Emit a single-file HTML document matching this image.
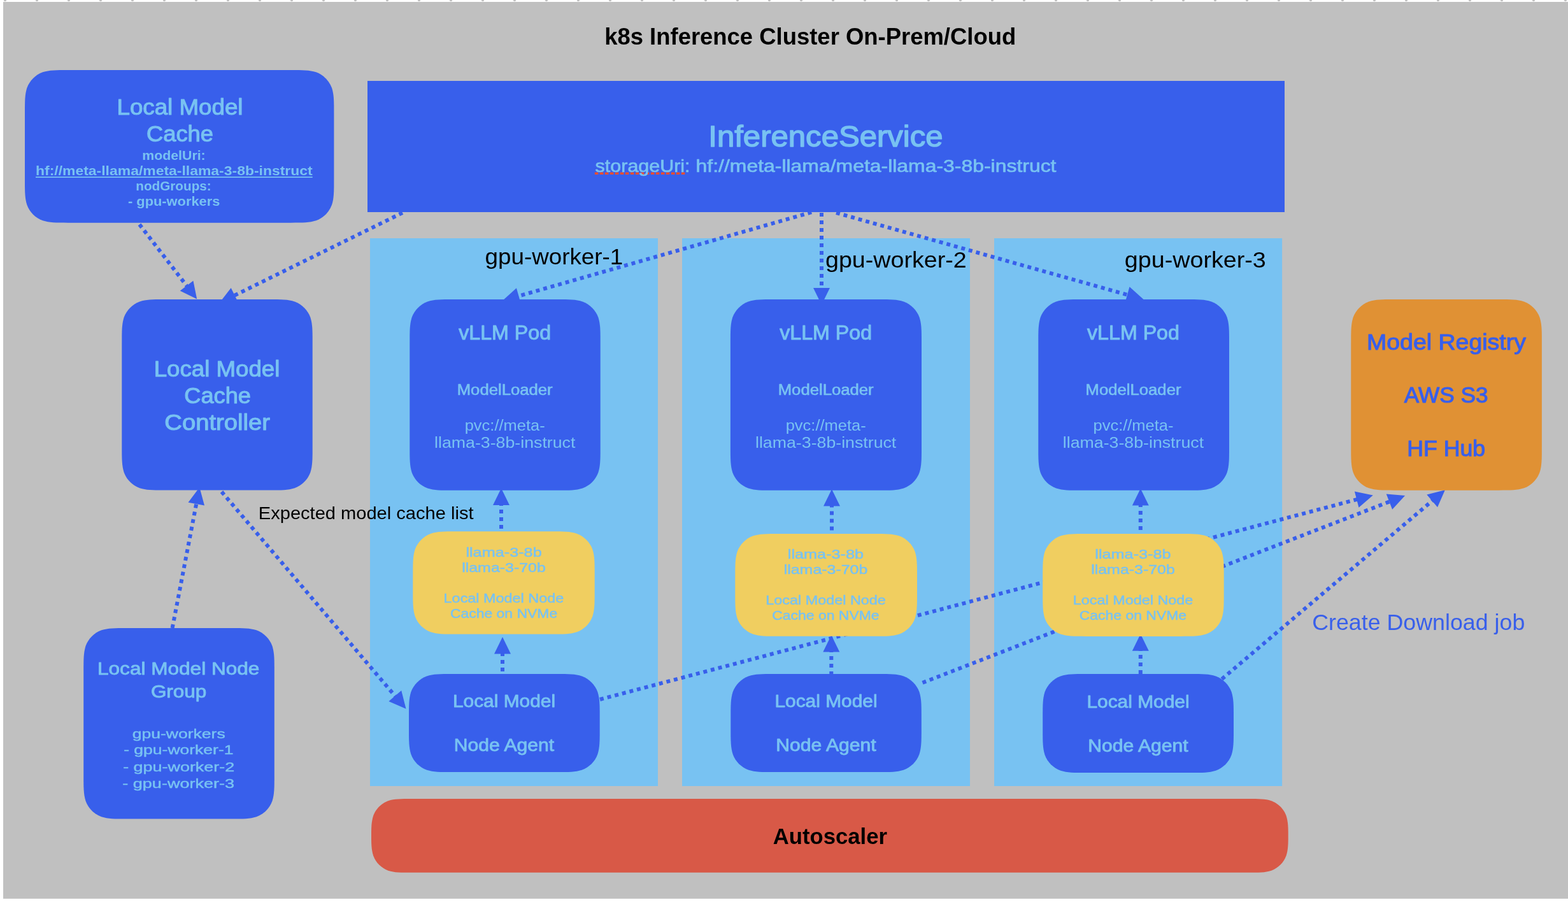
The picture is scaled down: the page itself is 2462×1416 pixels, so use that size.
<!DOCTYPE html>
<html lang="en">
<head>
<meta charset="utf-8">
<title>k8s Inference Cluster On-Prem/Cloud</title>
<style>
html,body{margin:0;padding:0;background:#fff;}
body{width:2462px;height:1416px;overflow:hidden;}
svg{display:block;font-family:"Liberation Sans", sans-serif;will-change:transform;filter:opacity(1);}
text{white-space:pre;}
</style>
</head>
<body>
<svg width="2462" height="1416" viewBox="0 0 2462 1416">
<rect x="5.0" y="3.0" width="2457.0" height="1407.8" fill="#C0C0C0"/>
<circle cx="8" cy="0" r="2.2" fill="#C0C0C0"/>
<circle cx="58" cy="0" r="2.2" fill="#C0C0C0"/>
<circle cx="108" cy="0" r="2.2" fill="#C0C0C0"/>
<circle cx="158" cy="0" r="2.2" fill="#C0C0C0"/>
<circle cx="208" cy="0" r="2.2" fill="#C0C0C0"/>
<circle cx="258" cy="0" r="2.2" fill="#C0C0C0"/>
<circle cx="308" cy="0" r="2.2" fill="#C0C0C0"/>
<circle cx="358" cy="0" r="2.2" fill="#C0C0C0"/>
<circle cx="408" cy="0" r="2.2" fill="#C0C0C0"/>
<circle cx="458" cy="0" r="2.2" fill="#C0C0C0"/>
<circle cx="508" cy="0" r="2.2" fill="#C0C0C0"/>
<circle cx="558" cy="0" r="2.2" fill="#C0C0C0"/>
<circle cx="608" cy="0" r="2.2" fill="#C0C0C0"/>
<circle cx="658" cy="0" r="2.2" fill="#C0C0C0"/>
<circle cx="708" cy="0" r="2.2" fill="#C0C0C0"/>
<circle cx="758" cy="0" r="2.2" fill="#C0C0C0"/>
<circle cx="808" cy="0" r="2.2" fill="#C0C0C0"/>
<circle cx="858" cy="0" r="2.2" fill="#C0C0C0"/>
<circle cx="908" cy="0" r="2.2" fill="#C0C0C0"/>
<circle cx="958" cy="0" r="2.2" fill="#C0C0C0"/>
<circle cx="1008" cy="0" r="2.2" fill="#C0C0C0"/>
<circle cx="1058" cy="0" r="2.2" fill="#C0C0C0"/>
<circle cx="1108" cy="0" r="2.2" fill="#C0C0C0"/>
<circle cx="1158" cy="0" r="2.2" fill="#C0C0C0"/>
<circle cx="1208" cy="0" r="2.2" fill="#C0C0C0"/>
<circle cx="1258" cy="0" r="2.2" fill="#C0C0C0"/>
<circle cx="1308" cy="0" r="2.2" fill="#C0C0C0"/>
<circle cx="1358" cy="0" r="2.2" fill="#C0C0C0"/>
<circle cx="1408" cy="0" r="2.2" fill="#C0C0C0"/>
<circle cx="1458" cy="0" r="2.2" fill="#C0C0C0"/>
<circle cx="1508" cy="0" r="2.2" fill="#C0C0C0"/>
<circle cx="1558" cy="0" r="2.2" fill="#C0C0C0"/>
<circle cx="1608" cy="0" r="2.2" fill="#C0C0C0"/>
<circle cx="1658" cy="0" r="2.2" fill="#C0C0C0"/>
<circle cx="1708" cy="0" r="2.2" fill="#C0C0C0"/>
<circle cx="1758" cy="0" r="2.2" fill="#C0C0C0"/>
<circle cx="1808" cy="0" r="2.2" fill="#C0C0C0"/>
<circle cx="1858" cy="0" r="2.2" fill="#C0C0C0"/>
<circle cx="1908" cy="0" r="2.2" fill="#C0C0C0"/>
<circle cx="1958" cy="0" r="2.2" fill="#C0C0C0"/>
<circle cx="2008" cy="0" r="2.2" fill="#C0C0C0"/>
<circle cx="2058" cy="0" r="2.2" fill="#C0C0C0"/>
<circle cx="2108" cy="0" r="2.2" fill="#C0C0C0"/>
<circle cx="2158" cy="0" r="2.2" fill="#C0C0C0"/>
<circle cx="2208" cy="0" r="2.2" fill="#C0C0C0"/>
<circle cx="2258" cy="0" r="2.2" fill="#C0C0C0"/>
<circle cx="2308" cy="0" r="2.2" fill="#C0C0C0"/>
<circle cx="2358" cy="0" r="2.2" fill="#C0C0C0"/>
<circle cx="2408" cy="0" r="2.2" fill="#C0C0C0"/>
<circle cx="2458" cy="0" r="2.2" fill="#C0C0C0"/>
<rect x="581.0" y="374.0" width="452.0" height="860.0" fill="#78C2F2"/>
<rect x="1071.0" y="374.0" width="452.0" height="860.0" fill="#78C2F2"/>
<rect x="1561.0" y="374.0" width="452.1" height="860.0" fill="#78C2F2"/>
<rect x="577.0" y="127.0" width="1440.0" height="206.0" fill="#385FEB"/>
<g id="lines">
<line x1="219.0" y1="352.3" x2="295.5" y2="451.8" stroke="#385FEB" stroke-width="6" stroke-dasharray="6 6"/>
<polygon points="309.2,469.6 282.7,456.5 303.4,440.7" fill="#385FEB"/>
<line x1="632.0" y1="334.0" x2="364.9" y2="465.4" stroke="#385FEB" stroke-width="6" stroke-dasharray="6 6"/>
<polygon points="344.7,475.3 362.7,451.9 374.2,475.3" fill="#385FEB"/>
<line x1="1274.2" y1="333.2" x2="810.6" y2="465.8" stroke="#385FEB" stroke-width="6" stroke-dasharray="6 6"/>
<polygon points="789.0,472.0 810.9,452.2 818.1,477.2" fill="#385FEB"/>
<line x1="1290.0" y1="334.0" x2="1290.0" y2="456.0" stroke="#385FEB" stroke-width="6" stroke-dasharray="6 6"/>
<polygon points="1290.0,478.5 1277.0,452.0 1303.0,452.0" fill="#385FEB"/>
<line x1="1313.0" y1="334.0" x2="1773.8" y2="463.9" stroke="#385FEB" stroke-width="6" stroke-dasharray="6 6"/>
<polygon points="1795.5,470.0 1766.5,475.3 1773.5,450.3" fill="#385FEB"/>
<line x1="787.0" y1="830.0" x2="787.0" y2="789.0" stroke="#385FEB" stroke-width="6" stroke-dasharray="6 6"/>
<polygon points="787.0,766.5 800.0,793.0 774.0,793.0" fill="#385FEB"/>
<line x1="1306.0" y1="832.6" x2="1306.0" y2="790.5" stroke="#385FEB" stroke-width="6" stroke-dasharray="6 6"/>
<polygon points="1306.0,768.0 1319.0,794.5 1293.0,794.5" fill="#385FEB"/>
<line x1="1790.8" y1="832.0" x2="1790.8" y2="789.5" stroke="#385FEB" stroke-width="6" stroke-dasharray="6 6"/>
<polygon points="1790.8,767.0 1803.8,793.5 1777.8,793.5" fill="#385FEB"/>
<line x1="789.0" y1="1054.0" x2="789.0" y2="1022.5" stroke="#385FEB" stroke-width="6" stroke-dasharray="6 6"/>
<polygon points="789.0,1000.0 802.0,1026.5 776.0,1026.5" fill="#385FEB"/>
<line x1="1305.3" y1="1060.0" x2="1305.3" y2="1019.5" stroke="#385FEB" stroke-width="6" stroke-dasharray="6 6"/>
<polygon points="1305.3,997.0 1318.3,1023.5 1292.3,1023.5" fill="#385FEB"/>
<line x1="1790.8" y1="1058.0" x2="1790.8" y2="1017.8" stroke="#385FEB" stroke-width="6" stroke-dasharray="6 6"/>
<polygon points="1790.8,995.3 1803.8,1021.8 1777.8,1021.8" fill="#385FEB"/>
<line x1="270.6" y1="986.0" x2="309.0" y2="787.2" stroke="#385FEB" stroke-width="6" stroke-dasharray="6 6"/>
<polygon points="313.3,765.1 321.0,793.6 295.5,788.7" fill="#385FEB"/>
<line x1="348.0" y1="772.0" x2="622.9" y2="1095.6" stroke="#385FEB" stroke-width="6" stroke-dasharray="6 6"/>
<polygon points="637.5,1112.7 610.4,1100.9 630.2,1084.1" fill="#385FEB"/>
<line x1="942.0" y1="1098.0" x2="2134.0" y2="783.1" stroke="#385FEB" stroke-width="6" stroke-dasharray="6 6"/>
<polygon points="2155.8,777.4 2133.5,796.7 2126.9,771.6" fill="#385FEB"/>
<line x1="1448.5" y1="1071.8" x2="2185.1" y2="786.2" stroke="#385FEB" stroke-width="6" stroke-dasharray="6 6"/>
<polygon points="2206.1,778.1 2186.1,799.8 2176.7,775.6" fill="#385FEB"/>
<line x1="1918.5" y1="1066.0" x2="2251.7" y2="783.7" stroke="#385FEB" stroke-width="6" stroke-dasharray="6 6"/>
<polygon points="2268.9,769.2 2257.1,796.2 2240.3,776.4" fill="#385FEB"/>
</g>
<path d="M107.03,110.00 L456.37,110.00 C475.96,110.00 485.76,110.00 496.30,113.33 C507.81,117.52 516.88,126.59 521.07,138.10 C524.40,148.64 524.40,158.44 524.40,178.03 L524.40,281.67 C524.40,301.26 524.40,311.06 521.07,321.60 C516.88,333.11 507.81,342.18 496.30,346.37 C485.76,349.70 475.96,349.70 456.37,349.70 L107.03,349.70 C87.44,349.70 77.64,349.70 67.10,346.37 C55.59,342.18 46.52,333.11 42.33,321.60 C39.00,311.06 39.00,301.26 39.00,281.67 L39.00,178.03 C39.00,158.44 39.00,148.64 42.33,138.10 C46.52,126.59 55.59,117.52 67.10,113.33 C77.64,110.00 87.44,110.00 107.03,110.00 Z" fill="#385FEB"/>
<path d="M259.33,470.10 L422.67,470.10 C442.26,470.10 452.06,470.10 462.60,473.43 C474.11,477.62 483.18,486.69 487.37,498.20 C490.70,508.74 490.70,518.54 490.70,538.13 L490.70,701.57 C490.70,721.16 490.70,730.96 487.37,741.50 C483.18,753.01 474.11,762.08 462.60,766.27 C452.06,769.60 442.26,769.60 422.67,769.60 L259.33,769.60 C239.74,769.60 229.94,769.60 219.40,766.27 C207.89,762.08 198.82,753.01 194.63,741.50 C191.30,730.96 191.30,721.16 191.30,701.57 L191.30,538.13 C191.30,518.54 191.30,508.74 194.63,498.20 C198.82,486.69 207.89,477.62 219.40,473.43 C229.94,470.10 239.74,470.10 259.33,470.10 Z" fill="#385FEB"/>
<path d="M711.33,470.10 L874.67,470.10 C894.26,470.10 904.06,470.10 914.60,473.43 C926.11,477.62 935.18,486.69 939.37,498.20 C942.70,508.74 942.70,518.54 942.70,538.13 L942.70,701.77 C942.70,721.36 942.70,731.16 939.37,741.70 C935.18,753.21 926.11,762.28 914.60,766.47 C904.06,769.80 894.26,769.80 874.67,769.80 L711.33,769.80 C691.74,769.80 681.94,769.80 671.40,766.47 C659.89,762.28 650.82,753.21 646.63,741.70 C643.30,731.16 643.30,721.36 643.30,701.77 L643.30,538.13 C643.30,518.54 643.30,508.74 646.63,498.20 C650.82,486.69 659.89,477.62 671.40,473.43 C681.94,470.10 691.74,470.10 711.33,470.10 Z" fill="#385FEB"/>
<path d="M1214.93,470.10 L1378.97,470.10 C1398.56,470.10 1408.36,470.10 1418.90,473.43 C1430.41,477.62 1439.48,486.69 1443.67,498.20 C1447.00,508.74 1447.00,518.54 1447.00,538.13 L1447.00,701.77 C1447.00,721.36 1447.00,731.16 1443.67,741.70 C1439.48,753.21 1430.41,762.28 1418.90,766.47 C1408.36,769.80 1398.56,769.80 1378.97,769.80 L1214.93,769.80 C1195.34,769.80 1185.54,769.80 1175.00,766.47 C1163.49,762.28 1154.42,753.21 1150.23,741.70 C1146.90,731.16 1146.90,721.36 1146.90,701.77 L1146.90,538.13 C1146.90,518.54 1146.90,508.74 1150.23,498.20 C1154.42,486.69 1163.49,477.62 1175.00,473.43 C1185.54,470.10 1195.34,470.10 1214.93,470.10 Z" fill="#385FEB"/>
<path d="M1698.33,470.10 L1861.97,470.10 C1881.56,470.10 1891.36,470.10 1901.90,473.43 C1913.41,477.62 1922.48,486.69 1926.67,498.20 C1930.00,508.74 1930.00,518.54 1930.00,538.13 L1930.00,701.77 C1930.00,721.36 1930.00,731.16 1926.67,741.70 C1922.48,753.21 1913.41,762.28 1901.90,766.47 C1891.36,769.80 1881.56,769.80 1861.97,769.80 L1698.33,769.80 C1678.74,769.80 1668.94,769.80 1658.40,766.47 C1646.89,762.28 1637.82,753.21 1633.63,741.70 C1630.30,731.16 1630.30,721.36 1630.30,701.77 L1630.30,538.13 C1630.30,518.54 1630.30,508.74 1633.63,498.20 C1637.82,486.69 1646.89,477.62 1658.40,473.43 C1668.94,470.10 1678.74,470.10 1698.33,470.10 Z" fill="#385FEB"/>
<path d="M2189.33,470.10 L2352.87,470.10 C2372.46,470.10 2382.26,470.10 2392.80,473.43 C2404.31,477.62 2413.38,486.69 2417.57,498.20 C2420.90,508.74 2420.90,518.54 2420.90,538.13 L2420.90,701.67 C2420.90,721.26 2420.90,731.06 2417.57,741.60 C2413.38,753.11 2404.31,762.18 2392.80,766.37 C2382.26,769.70 2372.46,769.70 2352.87,769.70 L2189.33,769.70 C2169.74,769.70 2159.94,769.70 2149.40,766.37 C2137.89,762.18 2128.82,753.11 2124.63,741.60 C2121.30,731.06 2121.30,721.26 2121.30,701.67 L2121.30,538.13 C2121.30,518.54 2121.30,508.74 2124.63,498.20 C2128.82,486.69 2137.89,477.62 2149.40,473.43 C2159.94,470.10 2169.74,470.10 2189.33,470.10 Z" fill="#E09134"/>
<path d="M716.33,834.30 L865.67,834.30 C885.26,834.30 895.06,834.30 905.60,837.63 C917.11,841.82 926.18,850.89 930.37,862.40 C933.70,872.94 933.70,882.74 933.70,902.33 L933.70,927.47 C933.70,947.06 933.70,956.86 930.37,967.40 C926.18,978.91 917.11,987.98 905.60,992.17 C895.06,995.50 885.26,995.50 865.67,995.50 L716.33,995.50 C696.74,995.50 686.94,995.50 676.40,992.17 C664.89,987.98 655.82,978.91 651.63,967.40 C648.30,956.86 648.30,947.06 648.30,927.47 L648.30,902.33 C648.30,882.74 648.30,872.94 651.63,862.40 C655.82,850.89 664.89,841.82 676.40,837.63 C686.94,834.30 696.74,834.30 716.33,834.30 Z" fill="#F0CE60"/>
<path d="M1222.33,838.00 L1371.97,838.00 C1391.56,838.00 1401.36,838.00 1411.90,841.33 C1423.41,845.52 1432.48,854.59 1436.67,866.10 C1440.00,876.64 1440.00,886.44 1440.00,906.03 L1440.00,930.77 C1440.00,950.36 1440.00,960.16 1436.67,970.70 C1432.48,982.21 1423.41,991.28 1411.90,995.47 C1401.36,998.80 1391.56,998.80 1371.97,998.80 L1222.33,998.80 C1202.74,998.80 1192.94,998.80 1182.40,995.47 C1170.89,991.28 1161.82,982.21 1157.63,970.70 C1154.30,960.16 1154.30,950.36 1154.30,930.77 L1154.30,906.03 C1154.30,886.44 1154.30,876.64 1157.63,866.10 C1161.82,854.59 1170.89,845.52 1182.40,841.33 C1192.94,838.00 1202.74,838.00 1222.33,838.00 Z" fill="#F0CE60"/>
<path d="M1705.23,838.00 L1853.67,838.00 C1873.26,838.00 1883.06,838.00 1893.60,841.33 C1905.11,845.52 1914.18,854.59 1918.37,866.10 C1921.70,876.64 1921.70,886.44 1921.70,906.03 L1921.70,930.87 C1921.70,950.46 1921.70,960.26 1918.37,970.80 C1914.18,982.31 1905.11,991.38 1893.60,995.57 C1883.06,998.90 1873.26,998.90 1853.67,998.90 L1705.23,998.90 C1685.64,998.90 1675.84,998.90 1665.30,995.57 C1653.79,991.38 1644.72,982.31 1640.53,970.80 C1637.20,960.26 1637.20,950.46 1637.20,930.87 L1637.20,906.03 C1637.20,886.44 1637.20,876.64 1640.53,866.10 C1644.72,854.59 1653.79,845.52 1665.30,841.33 C1675.84,838.00 1685.64,838.00 1705.23,838.00 Z" fill="#F0CE60"/>
<path d="M710.03,1058.10 L873.67,1058.10 C893.26,1058.10 903.06,1058.10 913.60,1061.43 C925.11,1065.62 934.18,1074.69 938.37,1086.20 C941.70,1096.74 941.70,1106.54 941.70,1126.13 L941.70,1143.97 C941.70,1163.56 941.70,1173.36 938.37,1183.90 C934.18,1195.41 925.11,1204.48 913.60,1208.67 C903.06,1212.00 893.26,1212.00 873.67,1212.00 L710.03,1212.00 C690.44,1212.00 680.64,1212.00 670.10,1208.67 C658.59,1204.48 649.52,1195.41 645.33,1183.90 C642.00,1173.36 642.00,1163.56 642.00,1143.97 L642.00,1126.13 C642.00,1106.54 642.00,1096.74 645.33,1086.20 C649.52,1074.69 658.59,1065.62 670.10,1061.43 C680.64,1058.10 690.44,1058.10 710.03,1058.10 Z" fill="#385FEB"/>
<path d="M1215.33,1058.10 L1378.77,1058.10 C1398.36,1058.10 1408.16,1058.10 1418.70,1061.43 C1430.21,1065.62 1439.28,1074.69 1443.47,1086.20 C1446.80,1096.74 1446.80,1106.54 1446.80,1126.13 L1446.80,1143.97 C1446.80,1163.56 1446.80,1173.36 1443.47,1183.90 C1439.28,1195.41 1430.21,1204.48 1418.70,1208.67 C1408.16,1212.00 1398.36,1212.00 1378.77,1212.00 L1215.33,1212.00 C1195.74,1212.00 1185.94,1212.00 1175.40,1208.67 C1163.89,1204.48 1154.82,1195.41 1150.63,1183.90 C1147.30,1173.36 1147.30,1163.56 1147.30,1143.97 L1147.30,1126.13 C1147.30,1106.54 1147.30,1096.74 1150.63,1086.20 C1154.82,1074.69 1163.89,1065.62 1175.40,1061.43 C1185.94,1058.10 1195.74,1058.10 1215.33,1058.10 Z" fill="#385FEB"/>
<path d="M1705.23,1058.10 L1868.97,1058.10 C1888.56,1058.10 1898.36,1058.10 1908.90,1061.43 C1920.41,1065.62 1929.48,1074.69 1933.67,1086.20 C1937.00,1096.74 1937.00,1106.54 1937.00,1126.13 L1937.00,1145.07 C1937.00,1164.66 1937.00,1174.46 1933.67,1185.00 C1929.48,1196.51 1920.41,1205.58 1908.90,1209.77 C1898.36,1213.10 1888.56,1213.10 1868.97,1213.10 L1705.23,1213.10 C1685.64,1213.10 1675.84,1213.10 1665.30,1209.77 C1653.79,1205.58 1644.72,1196.51 1640.53,1185.00 C1637.20,1174.46 1637.20,1164.66 1637.20,1145.07 L1637.20,1126.13 C1637.20,1106.54 1637.20,1096.74 1640.53,1086.20 C1644.72,1074.69 1653.79,1065.62 1665.30,1061.43 C1675.84,1058.10 1685.64,1058.10 1705.23,1058.10 Z" fill="#385FEB"/>
<path d="M199.23,986.00 L362.77,986.00 C382.36,986.00 392.16,986.00 402.70,989.33 C414.21,993.52 423.28,1002.59 427.47,1014.10 C430.80,1024.64 430.80,1034.44 430.80,1054.03 L430.80,1217.57 C430.80,1237.16 430.80,1246.96 427.47,1257.50 C423.28,1269.01 414.21,1278.08 402.70,1282.27 C392.16,1285.60 382.36,1285.60 362.77,1285.60 L199.23,1285.60 C179.64,1285.60 169.84,1285.60 159.30,1282.27 C147.79,1278.08 138.72,1269.01 134.53,1257.50 C131.20,1246.96 131.20,1237.16 131.20,1217.57 L131.20,1054.03 C131.20,1034.44 131.20,1024.64 134.53,1014.10 C138.72,1002.59 147.79,993.52 159.30,989.33 C169.84,986.00 179.64,986.00 199.23,986.00 Z" fill="#385FEB"/>
<path d="M647.20,1254.00 L1958.50,1254.00 C1976.98,1254.00 1986.23,1254.00 1996.18,1257.15 C2007.04,1261.10 2015.60,1269.66 2019.55,1280.52 C2022.70,1290.47 2022.70,1299.72 2022.70,1311.90 L2022.70,1311.90 C2022.70,1324.08 2022.70,1333.33 2019.55,1343.28 C2015.60,1354.14 2007.04,1362.70 1996.18,1366.65 C1986.23,1369.80 1976.98,1369.80 1958.50,1369.80 L647.20,1369.80 C628.72,1369.80 619.47,1369.80 609.52,1366.65 C598.66,1362.70 590.10,1354.14 586.15,1343.28 C583.00,1333.33 583.00,1324.08 583.00,1311.90 L583.00,1311.90 C583.00,1299.72 583.00,1290.47 586.15,1280.52 C590.10,1269.66 598.66,1261.10 609.52,1257.15 C619.47,1254.00 628.72,1254.00 647.20,1254.00 Z" fill="#D85947"/>
<text x="949.2" y="70.0" font-size="36" fill="#000" font-weight="bold" textLength="646.0" lengthAdjust="spacingAndGlyphs">k8s Inference Cluster On-Prem/Cloud</text>
<text x="183.5" y="179.8" font-size="34.5" fill="#78C2F2" stroke="#78C2F2" stroke-width="1.07" stroke-linejoin="round" textLength="198.0" lengthAdjust="spacingAndGlyphs">Local Model</text>
<text x="230.0" y="221.6" font-size="34.5" fill="#78C2F2" stroke="#78C2F2" stroke-width="1.07" stroke-linejoin="round" textLength="105.0" lengthAdjust="spacingAndGlyphs">Cache</text>
<text x="223.3" y="251.0" font-size="19.5" fill="#78C2F2" font-weight="bold" textLength="99.4" lengthAdjust="spacingAndGlyphs">modelUri:</text>
<text x="56.0" y="275.3" font-size="19.5" fill="#78C2F2" font-weight="bold" textLength="434.7" lengthAdjust="spacingAndGlyphs">hf://meta-llama/meta-llama-3-8b-instruct</text>
<rect x="56.0" y="277.3" width="434.7" height="1.7" fill="#78C2F2"/>
<text x="213.3" y="299.0" font-size="19.5" fill="#78C2F2" font-weight="bold" textLength="118.4" lengthAdjust="spacingAndGlyphs">nodGroups:</text>
<text x="201.0" y="323.0" font-size="19.5" fill="#78C2F2" font-weight="bold" textLength="144.3" lengthAdjust="spacingAndGlyphs">- gpu-workers</text>
<text x="1112.3" y="230.3" font-size="46" fill="#78C2F2" stroke="#78C2F2" stroke-width="1.43" stroke-linejoin="round" textLength="368.3" lengthAdjust="spacingAndGlyphs">InferenceService</text>
<line x1="933.9" y1="272.3" x2="1075.4" y2="272.3" stroke="#F04E30" stroke-width="3.6" stroke-dasharray="5.4 2.6"/>
<text x="934.6" y="269.6" font-size="28.5" fill="#78C2F2" stroke="#78C2F2" stroke-width="0.7" stroke-linejoin="round" textLength="149.0" lengthAdjust="spacingAndGlyphs">storageUri:</text>
<text x="1092.6" y="269.6" font-size="28.5" fill="#78C2F2" stroke="#78C2F2" stroke-width="0.7" stroke-linejoin="round" textLength="565.9" lengthAdjust="spacingAndGlyphs">hf://meta-llama/meta-llama-3-8b-instruct</text>
<text x="761.5" y="415.0" font-size="34.5" fill="#000" textLength="216.8" lengthAdjust="spacingAndGlyphs">gpu-worker-1</text>
<text x="1296.0" y="420.2" font-size="34.5" fill="#000" textLength="221.7" lengthAdjust="spacingAndGlyphs">gpu-worker-2</text>
<text x="1765.8" y="419.5" font-size="34.5" fill="#000" textLength="222.0" lengthAdjust="spacingAndGlyphs">gpu-worker-3</text>
<text x="241.7" y="591.2" font-size="34.5" fill="#78C2F2" stroke="#78C2F2" stroke-width="1.07" stroke-linejoin="round" textLength="197.6" lengthAdjust="spacingAndGlyphs">Local Model</text>
<text x="289.3" y="633.2" font-size="34.5" fill="#78C2F2" stroke="#78C2F2" stroke-width="1.07" stroke-linejoin="round" textLength="104.7" lengthAdjust="spacingAndGlyphs">Cache</text>
<text x="258.3" y="675.2" font-size="34.5" fill="#78C2F2" stroke="#78C2F2" stroke-width="1.07" stroke-linejoin="round" textLength="165.7" lengthAdjust="spacingAndGlyphs">Controller</text>
<text x="720.2" y="533.4" font-size="30.5" fill="#78C2F2" stroke="#78C2F2" stroke-width="0.95" stroke-linejoin="round" textLength="144.9" lengthAdjust="spacingAndGlyphs">vLLM Pod</text>
<text x="717.7" y="620.0" font-size="23" fill="#78C2F2" stroke="#78C2F2" stroke-width="0.6" stroke-linejoin="round" textLength="150.0" lengthAdjust="spacingAndGlyphs">ModelLoader</text>
<text x="729.7" y="675.8" font-size="23.5" fill="#78C2F2" textLength="126.0" lengthAdjust="spacingAndGlyphs">pvc://meta-</text>
<text x="682.1" y="703.0" font-size="23.5" fill="#78C2F2" textLength="221.3" lengthAdjust="spacingAndGlyphs">llama-3-8b-instruct</text>
<text x="1224.2" y="533.4" font-size="30.5" fill="#78C2F2" stroke="#78C2F2" stroke-width="0.95" stroke-linejoin="round" textLength="144.9" lengthAdjust="spacingAndGlyphs">vLLM Pod</text>
<text x="1221.7" y="620.0" font-size="23" fill="#78C2F2" stroke="#78C2F2" stroke-width="0.6" stroke-linejoin="round" textLength="150.0" lengthAdjust="spacingAndGlyphs">ModelLoader</text>
<text x="1233.7" y="675.8" font-size="23.5" fill="#78C2F2" textLength="126.0" lengthAdjust="spacingAndGlyphs">pvc://meta-</text>
<text x="1186.0" y="703.0" font-size="23.5" fill="#78C2F2" textLength="221.3" lengthAdjust="spacingAndGlyphs">llama-3-8b-instruct</text>
<text x="1707.0" y="533.4" font-size="30.5" fill="#78C2F2" stroke="#78C2F2" stroke-width="0.95" stroke-linejoin="round" textLength="144.9" lengthAdjust="spacingAndGlyphs">vLLM Pod</text>
<text x="1704.5" y="620.0" font-size="23" fill="#78C2F2" stroke="#78C2F2" stroke-width="0.6" stroke-linejoin="round" textLength="150.0" lengthAdjust="spacingAndGlyphs">ModelLoader</text>
<text x="1716.5" y="675.8" font-size="23.5" fill="#78C2F2" textLength="126.0" lengthAdjust="spacingAndGlyphs">pvc://meta-</text>
<text x="1668.8" y="703.0" font-size="23.5" fill="#78C2F2" textLength="221.3" lengthAdjust="spacingAndGlyphs">llama-3-8b-instruct</text>
<text x="2146.0" y="548.6" font-size="35.5" fill="#385FEB" stroke="#385FEB" stroke-width="1.1" stroke-linejoin="round" textLength="250.0" lengthAdjust="spacingAndGlyphs">Model Registry</text>
<text x="2204.8" y="632.3" font-size="35.5" fill="#385FEB" stroke="#385FEB" stroke-width="1.1" stroke-linejoin="round" textLength="131.7" lengthAdjust="spacingAndGlyphs">AWS S3</text>
<text x="2209.2" y="716.2" font-size="35.5" fill="#385FEB" stroke="#385FEB" stroke-width="1.1" stroke-linejoin="round" textLength="123.0" lengthAdjust="spacingAndGlyphs">HF Hub</text>
<text x="405.8" y="815.0" font-size="28.5" fill="#000" textLength="337.7" lengthAdjust="spacingAndGlyphs">Expected model cache list</text>
<text x="731.4" y="873.7" font-size="21" fill="#78C2F2" stroke="#78C2F2" stroke-width="0.5" stroke-linejoin="round" textLength="119.3" lengthAdjust="spacingAndGlyphs">llama-3-8b</text>
<text x="725.2" y="897.7" font-size="21" fill="#78C2F2" stroke="#78C2F2" stroke-width="0.5" stroke-linejoin="round" textLength="131.6" lengthAdjust="spacingAndGlyphs">llama-3-70b</text>
<text x="696.6" y="946.2" font-size="21" fill="#78C2F2" stroke="#78C2F2" stroke-width="0.5" stroke-linejoin="round" textLength="188.7" lengthAdjust="spacingAndGlyphs">Local Model Node</text>
<text x="706.9" y="969.9" font-size="21" fill="#78C2F2" stroke="#78C2F2" stroke-width="0.5" stroke-linejoin="round" textLength="168.3" lengthAdjust="spacingAndGlyphs">Cache on NVMe</text>
<text x="1236.8" y="876.7" font-size="21" fill="#78C2F2" stroke="#78C2F2" stroke-width="0.5" stroke-linejoin="round" textLength="119.3" lengthAdjust="spacingAndGlyphs">llama-3-8b</text>
<text x="1230.7" y="900.7" font-size="21" fill="#78C2F2" stroke="#78C2F2" stroke-width="0.5" stroke-linejoin="round" textLength="131.6" lengthAdjust="spacingAndGlyphs">llama-3-70b</text>
<text x="1202.2" y="949.2" font-size="21" fill="#78C2F2" stroke="#78C2F2" stroke-width="0.5" stroke-linejoin="round" textLength="188.7" lengthAdjust="spacingAndGlyphs">Local Model Node</text>
<text x="1212.3" y="972.9" font-size="21" fill="#78C2F2" stroke="#78C2F2" stroke-width="0.5" stroke-linejoin="round" textLength="168.3" lengthAdjust="spacingAndGlyphs">Cache on NVMe</text>
<text x="1719.3" y="876.7" font-size="21" fill="#78C2F2" stroke="#78C2F2" stroke-width="0.5" stroke-linejoin="round" textLength="119.3" lengthAdjust="spacingAndGlyphs">llama-3-8b</text>
<text x="1713.2" y="900.7" font-size="21" fill="#78C2F2" stroke="#78C2F2" stroke-width="0.5" stroke-linejoin="round" textLength="131.6" lengthAdjust="spacingAndGlyphs">llama-3-70b</text>
<text x="1684.7" y="949.2" font-size="21" fill="#78C2F2" stroke="#78C2F2" stroke-width="0.5" stroke-linejoin="round" textLength="188.7" lengthAdjust="spacingAndGlyphs">Local Model Node</text>
<text x="1694.8" y="972.9" font-size="21" fill="#78C2F2" stroke="#78C2F2" stroke-width="0.5" stroke-linejoin="round" textLength="168.3" lengthAdjust="spacingAndGlyphs">Cache on NVMe</text>
<text x="710.9" y="1110.4" font-size="27.5" fill="#78C2F2" stroke="#78C2F2" stroke-width="0.85" stroke-linejoin="round" textLength="161.2" lengthAdjust="spacingAndGlyphs">Local Model</text>
<text x="712.8" y="1179.2" font-size="27.5" fill="#78C2F2" stroke="#78C2F2" stroke-width="0.85" stroke-linejoin="round" textLength="157.4" lengthAdjust="spacingAndGlyphs">Node Agent</text>
<text x="1216.4" y="1110.4" font-size="27.5" fill="#78C2F2" stroke="#78C2F2" stroke-width="0.85" stroke-linejoin="round" textLength="161.2" lengthAdjust="spacingAndGlyphs">Local Model</text>
<text x="1218.3" y="1179.2" font-size="27.5" fill="#78C2F2" stroke="#78C2F2" stroke-width="0.85" stroke-linejoin="round" textLength="157.4" lengthAdjust="spacingAndGlyphs">Node Agent</text>
<text x="1706.4" y="1111.4" font-size="27.5" fill="#78C2F2" stroke="#78C2F2" stroke-width="0.85" stroke-linejoin="round" textLength="161.2" lengthAdjust="spacingAndGlyphs">Local Model</text>
<text x="1708.3" y="1180.2" font-size="27.5" fill="#78C2F2" stroke="#78C2F2" stroke-width="0.85" stroke-linejoin="round" textLength="157.4" lengthAdjust="spacingAndGlyphs">Node Agent</text>
<text x="153.0" y="1059.2" font-size="28.5" fill="#78C2F2" stroke="#78C2F2" stroke-width="0.88" stroke-linejoin="round" textLength="254.4" lengthAdjust="spacingAndGlyphs">Local Model Node</text>
<text x="236.9" y="1095.0" font-size="28.5" fill="#78C2F2" stroke="#78C2F2" stroke-width="0.88" stroke-linejoin="round" textLength="87.4" lengthAdjust="spacingAndGlyphs">Group</text>
<text x="207.7" y="1158.6" font-size="21" fill="#78C2F2" stroke="#78C2F2" stroke-width="0.45" stroke-linejoin="round" textLength="146.0" lengthAdjust="spacingAndGlyphs">gpu-workers</text>
<text x="194.2" y="1184.2" font-size="21" fill="#78C2F2" stroke="#78C2F2" stroke-width="0.45" stroke-linejoin="round" textLength="172.3" lengthAdjust="spacingAndGlyphs">- gpu-worker-1</text>
<text x="193.2" y="1210.5" font-size="21" fill="#78C2F2" stroke="#78C2F2" stroke-width="0.45" stroke-linejoin="round" textLength="175.0" lengthAdjust="spacingAndGlyphs">- gpu-worker-2</text>
<text x="192.3" y="1236.5" font-size="21" fill="#78C2F2" stroke="#78C2F2" stroke-width="0.45" stroke-linejoin="round" textLength="175.7" lengthAdjust="spacingAndGlyphs">- gpu-worker-3</text>
<text x="2060.2" y="989.1" font-size="34.5" fill="#385FEB" textLength="334.1" lengthAdjust="spacingAndGlyphs">Create Download job</text>
<text x="1213.8" y="1324.5" font-size="34.5" fill="#000" font-weight="bold" textLength="179.2" lengthAdjust="spacingAndGlyphs">Autoscaler</text>
</svg>
</body>
</html>
